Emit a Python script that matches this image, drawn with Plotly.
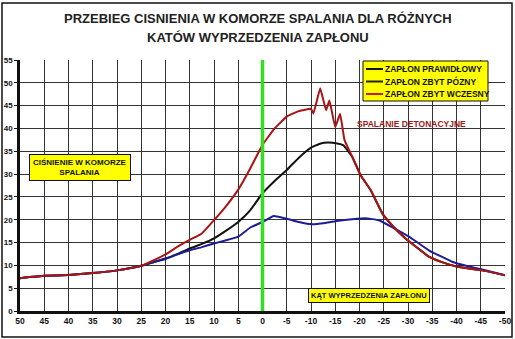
import plotly.graph_objects as go

# Crank angle before TDC (degrees) and chamber pressure (bar)
base_x = [50, 45, 40, 35, 30, 25]
base_y = [7.2, 7.7, 7.9, 8.3, 8.9, 9.9]

correct_x = base_x + [22.5, 20, 17.5, 15, 12.5, 10, 7.5, 5, 2.5, 0, -2.5, -5, -7.5, -10, -12, -13.5,
                      -15.4, -16.7, -18.5, -20.2, -22.3, -24.7, -26.7, -29.5, -32, -34.3, -37,
                      -39.8, -42.5, -45.3, -50]
correct_y = base_y + [10.7, 11.5, 12.5, 13.7, 14.7, 15.9, 17.6, 19.5, 22.1, 25.8, 28.5, 30.9, 33.6,
                      35.8, 36.7, 36.9, 36.7, 36.3, 33.8, 29.8, 26.5, 21.4, 18.8, 15.9, 13.8, 11.9,
                      10.7, 9.8, 9.3, 8.9, 7.85]

late_x = base_x + [22.5, 20, 17.5, 15, 12.5, 10, 7.5, 5, 2.5, 0, -2.3, -5.4, -7.5, -10.2, -13,
                   -15.7, -18.5, -21.2, -24, -26.7, -30.2, -34.3, -39.1, -42, -45.3, -50]
late_y = base_y + [10.7, 11.4, 12.4, 13.3, 14.0, 14.8, 15.5, 16.3, 18.3, 19.5, 20.8, 20.1, 19.5,
                   19.0, 19.3, 19.8, 20.1, 20.3, 19.9, 18.4, 16.3, 13.3, 10.8, 9.9, 9.1, 7.85]

early_x = base_x + [22.5, 20, 17.5, 15, 12.5, 10, 7.5, 5, 2.5, 0, -2.5, -5, -7.5, -10, -10.5,
                    -11.9, -13.1, -13.8, -15, -16, -16.9, -18.5, -20.2, -22.3, -24.7, -26.7,
                    -29.5, -32, -34.3, -37, -39.8, -42.5, -45.3, -50]
early_y = base_y + [11.1, 12.4, 14.1, 15.6, 17.0, 19.9, 23.0, 26.6, 31.3, 36.4, 40.0, 42.6, 43.8,
                    44.3, 43.3, 48.8, 44.0, 46.1, 40.3, 43.2, 37.5, 33.8, 29.8, 26.5, 21.4, 18.8,
                    15.9, 13.8, 11.9, 10.7, 9.8, 9.3, 8.9, 7.85]

x_ticks = list(range(50, -51, -5))
x_tick_text = [str(v) for v in x_ticks]
y_ticks = list(range(0, 56, 5))

series_names = ["ZAPŁON PRAWIDŁOWY", "ZAPŁON ZBYT PÓZNY", "ZAPŁON ZBYT WCZESNY"]
series_colors = ["#111111", "#1c1c96", "#aa1414"]
legend_colors = ["#111111", "#222222", "#cc1a1a"]

title_lines = ["PRZEBIEG CISNIENIA W KOMORZE SPALANIA DLA RÓŻNYCH",
               "KATÓW WYPRZEDZENIA ZAPŁONU"]

FONT = "Arial, Liberation Sans, sans-serif"

L, R, T, B = 20, 10, 60, 28
W, H = 515, 339
pw, ph = W - L - R, H - T - B


def px(p):
    return (p - L) / pw


def py(p):
    return (H - B - p) / ph


fig = go.Figure()
for xs, ys, name, color in zip([correct_x, late_x, early_x], [correct_y, late_y, early_y],
                               series_names, series_colors):
    fig.add_trace(go.Scatter(x=xs, y=ys, mode="lines", name=name, showlegend=False,
                             line=dict(color=color, width=2, shape="spline", smoothing=0.3)))

# top dead centre marker
fig.add_shape(type="line", xref="x", yref="y", x0=0, x1=0, y0=0, y1=55,
              line=dict(color="#33dd22", width=3.5))

# outer frame
fig.add_shape(type="rect", xref="paper", yref="paper",
              x0=px(2), x1=px(512), y0=py(337), y1=py(3),
              line=dict(color="#111111", width=1.5), layer="below")

# title
for i, line in enumerate(title_lines):
    fig.add_annotation(x=px(258), y=py(19 + 18 * i), xref="paper", yref="paper",
                       text=line, showarrow=False, xanchor="center", yanchor="middle",
                       font=dict(family=FONT, size=13, color="#222222", weight="bold"))

# legend box
fig.add_shape(type="rect", xref="paper", yref="paper",
              x0=px(363), x1=px(488), y0=py(101), y1=py(61),
              line=dict(color="#111111", width=1), fillcolor="#ffff00")
for i, (name, color) in enumerate(zip(series_names, legend_colors)):
    yy = py(69 + 12.5 * i)
    fig.add_shape(type="line", xref="paper", yref="paper",
                  x0=px(366), x1=px(383), y0=yy, y1=yy,
                  line=dict(color=color, width=2))
    fig.add_annotation(x=px(383), y=yy, xref="paper", yref="paper",
                       text=name, showarrow=False, xanchor="left", yanchor="middle",
                       font=dict(family=FONT, size=8.5, color="#111111", weight="bold"))

fig.add_annotation(x=37.7, y=31.5, xref="x", yref="y",
                   text="CIŚNIENIE W KOMORZE<br>SPALANIA", showarrow=False,
                   font=dict(family=FONT, size=8, color="#111111", weight="bold"),
                   bgcolor="#ffff00", bordercolor="#111111", borderwidth=1, borderpad=3)
fig.add_annotation(x=-22.0, y=3.35, xref="x", yref="y",
                   text="KĄT WYPRZEDZENIA ZAPŁONU", showarrow=False,
                   font=dict(family=FONT, size=7.5, color="#111111", weight="bold"),
                   bgcolor="#ffff00", bordercolor="#111111", borderwidth=1, borderpad=2)
fig.add_annotation(x=-30.7, y=41, xref="x", yref="y",
                   text="SPALANIE DETONACYJNE", showarrow=False,
                   font=dict(family=FONT, size=8.5, color="#a01818", weight="bold"))

grid = "#333333"
fig.update_layout(
    width=W, height=H,
    margin=dict(l=L, r=R, t=T, b=B, autoexpand=False),
    paper_bgcolor="white", plot_bgcolor="white",
    xaxis=dict(range=[50, -50], tickvals=x_ticks, ticktext=x_tick_text, automargin=False,
               showgrid=True, gridcolor=grid, gridwidth=1.3,
               showline=True, linecolor="#111111", linewidth=2.5,
               ticks="", tickfont=dict(family=FONT, size=8.5, color="#111111", weight="bold"),
               zeroline=False, fixedrange=True),
    yaxis=dict(range=[0, 55], tickvals=y_ticks, automargin=False,
               showgrid=True, gridcolor=grid, gridwidth=1.3,
               showline=True, linecolor="#111111", linewidth=2.5,
               ticks="outside", ticklen=3, tickcolor="#111111",
               tickfont=dict(family=FONT, size=8, color="#111111", weight="bold"),
               zeroline=False, fixedrange=True),
    showlegend=False,
)

fig.write_html("out.html")
